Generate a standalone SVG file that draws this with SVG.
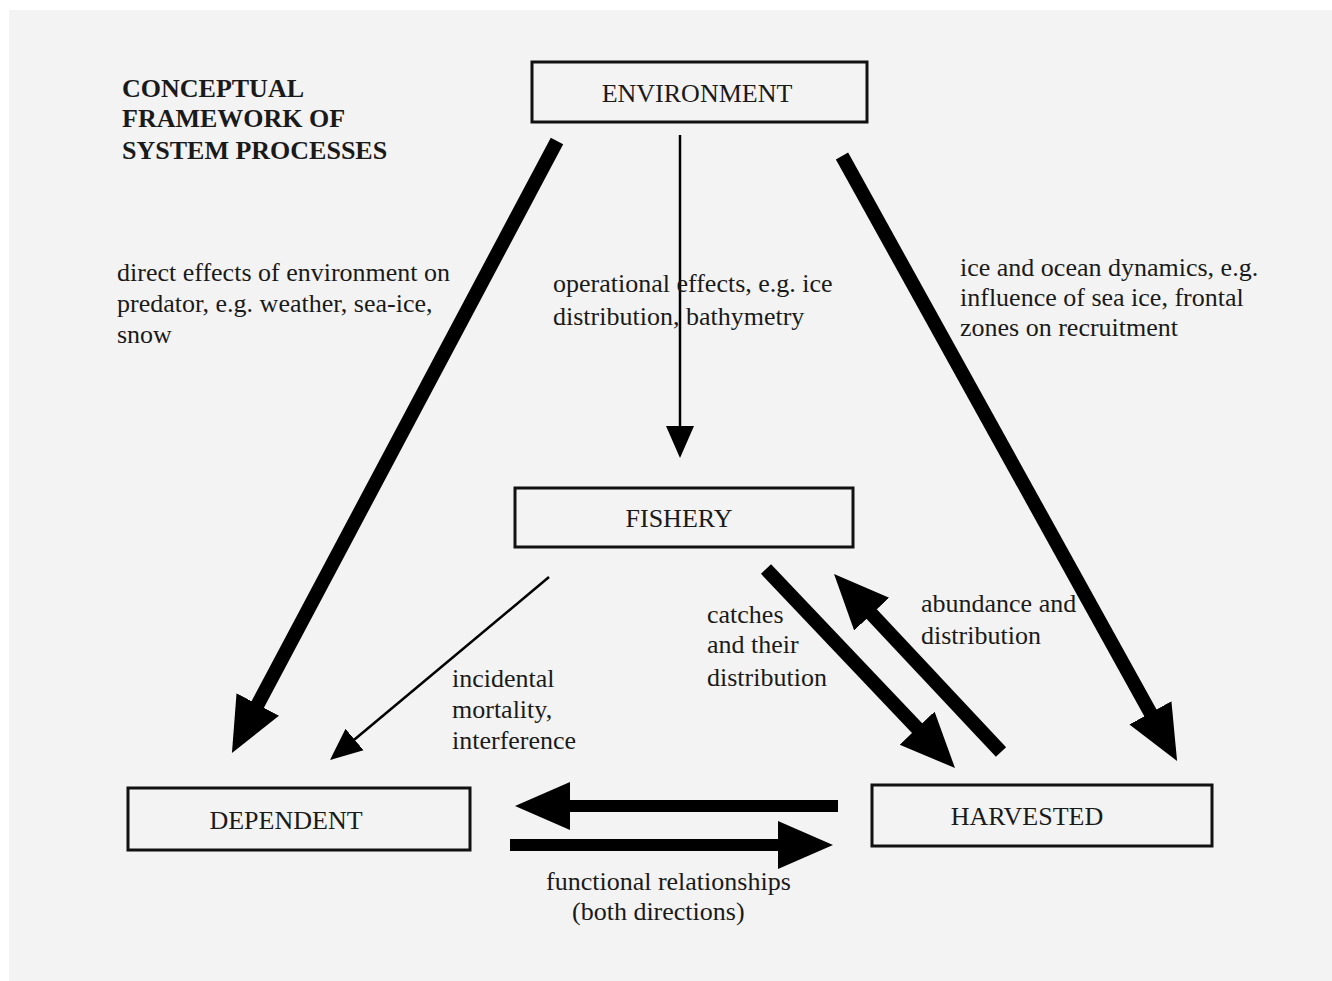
<svg xmlns="http://www.w3.org/2000/svg" width="1332" height="981" viewBox="0 0 1332 981">
  <style>
    .box { fill: #f3f3f3; stroke: #111; stroke-width: 3; }
    .lbl { font-family: "Liberation Serif", "Times New Roman", serif; font-size: 26px; fill: #1a1a1a; }
    .node { font-family: "Liberation Serif", "Times New Roman", serif; font-size: 26px; fill: #1a1a1a; text-anchor: middle; }
    .title { font-family: "Liberation Serif", "Times New Roman", serif; font-size: 26px; font-weight: bold; fill: #1a1a1a; }
    .thick { stroke: #000; stroke-width: 14; fill: none; marker-end: url(#headBig); }
    .thickh { stroke: #000; stroke-width: 12; fill: none; marker-end: url(#headBig); }
    .thin { stroke: #000; stroke-width: 2.5; fill: none; marker-end: url(#headSmall); }
  </style>
  <defs>
    <marker id="headBig" markerUnits="userSpaceOnUse" viewBox="0 -26 57 52" refX="2" refY="0" markerWidth="57" markerHeight="52" orient="auto">
      <path d="M0,-24 L55,0 L0,24 Z" fill="#000"/>
    </marker>
    <marker id="headSmall" markerUnits="userSpaceOnUse" viewBox="0 -16 34 32" refX="2" refY="0" markerWidth="34" markerHeight="32" orient="auto">
      <path d="M0,-14 L32,0 L0,14 Z" fill="#000"/>
    </marker>
  </defs>

  <rect x="0" y="0" width="1332" height="981" fill="#ffffff"/>
  <rect x="9" y="10" width="1323" height="971" fill="#f3f3f3"/>

  <g id="title">
    <text class="title" x="122" y="97">CONCEPTUAL</text>
    <text class="title" x="122" y="127">FRAMEWORK OF</text>
    <text class="title" x="122" y="159">SYSTEM PROCESSES</text>
  </g>

  <g id="connectors">
    <line id="env-dep" class="thick" x1="557" y1="141" x2="256.8" y2="706.2"/>
    <line id="env-harv" class="thick" x1="842" y1="156" x2="1151.4" y2="714.6"/>
    <line id="env-fish" class="thin" x1="680" y1="135" x2="680" y2="428"/>
    <line id="fish-dep" class="thin" x1="549" y1="577" x2="353" y2="740.8"/>
    <line id="fish-harv" class="thick" x1="766" y1="569" x2="918.5" y2="729.6"/>
    <line id="harv-fish" class="thick" x1="1001" y1="752" x2="870.3" y2="612.6"/>
    <line id="harv-dep" class="thickh" x1="838" y1="806" x2="568" y2="806"/>
    <line id="dep-harv" class="thickh" x1="510" y1="845" x2="780" y2="845"/>
  </g>

  <g id="labels">
    <text class="lbl" x="117" y="281">direct effects of environment on</text>
    <text class="lbl" x="117" y="312">predator, e.g. weather, sea-ice,</text>
    <text class="lbl" x="117" y="343">snow</text>
    <text class="lbl" x="553" y="292">operational effects, e.g. ice</text>
    <text class="lbl" x="553" y="325">distribution, bathymetry</text>
    <text class="lbl" x="960" y="276">ice and ocean dynamics, e.g.</text>
    <text class="lbl" x="960" y="306">influence of sea ice, frontal</text>
    <text class="lbl" x="960" y="336">zones on recruitment</text>
    <text class="lbl" x="707" y="623">catches</text>
    <text class="lbl" x="707" y="653">and their</text>
    <text class="lbl" x="707" y="686">distribution</text>
    <text class="lbl" x="921" y="612">abundance and</text>
    <text class="lbl" x="921" y="644">distribution</text>
    <text class="lbl" x="452" y="687">incidental</text>
    <text class="lbl" x="452" y="718">mortality,</text>
    <text class="lbl" x="452" y="749">interference</text>
    <text class="lbl" x="546" y="890">functional relationships</text>
    <text class="lbl" x="572" y="920">(both directions)</text>
  </g>

  <g id="environment">
    <rect class="box" x="532" y="62" width="335" height="60"/>
    <text class="node" x="697" y="102">ENVIRONMENT</text>
  </g>
  <g id="fishery">
    <rect class="box" x="515" y="488" width="338" height="59"/>
    <text class="node" x="679" y="527">FISHERY</text>
  </g>
  <g id="dependent">
    <rect class="box" x="128" y="788" width="342" height="62"/>
    <text class="node" x="286" y="829">DEPENDENT</text>
  </g>
  <g id="harvested">
    <rect class="box" x="872" y="785" width="340" height="61"/>
    <text class="node" x="1027" y="825">HARVESTED</text>
  </g>
</svg>
